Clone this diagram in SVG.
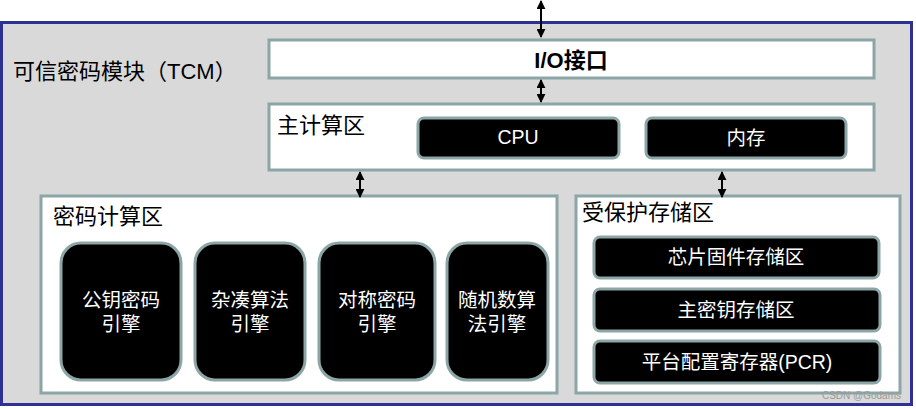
<svg xmlns="http://www.w3.org/2000/svg" width="916" height="409" viewBox="0 0 916 409">
<defs>
<style>
text{font-family:"Liberation Sans","Noto Sans CJK SC",sans-serif;}
.box{fill:#ffffff;stroke:#8CA5A6;stroke-width:3;}
.blk{fill:#000000;stroke:#8CA5A6;stroke-width:3;}
.wt{fill:#ffffff;font-size:19.5px;text-anchor:middle;}
.lbl{fill:#000000;font-size:22px;}
.conn{stroke:#000000;stroke-width:2;fill:none;marker-start:url(#ah);marker-end:url(#ah);}
</style>
<marker id="ah" viewBox="0 0 10 10" refX="9" refY="5" markerWidth="4.5" markerHeight="4.5" orient="auto-start-reverse" markerUnits="strokeWidth">
<path d="M0,0 L10,5 L0,10 z" fill="#000000"/>
</marker>
</defs>
<rect width="916" height="409" fill="#ffffff"/>
<g id="tcm">
<rect x="1.5" y="22.5" width="910" height="382" fill="#D9D9D9" stroke="#2E3192" stroke-width="3"/>
<text x="13" y="79" class="lbl">可信密码模块（TCM）</text>
</g>
<g id="io">
<rect x="269" y="40" width="605" height="38" class="box"/>
<text x="571" y="68" class="lbl" font-size="21" font-weight="bold" text-anchor="middle">I/O接口</text>
</g>
<g id="main">
<rect x="269" y="104" width="605" height="66" class="box"/>
<text x="277" y="133" class="lbl" font-size="22.5">主计算区</text>
</g>
<g id="cpu">
<rect x="418" y="118" width="201" height="40" rx="6" class="blk"/>
<text x="518" y="144" class="wt">CPU</text>
</g>
<g id="mem">
<rect x="646" y="118" width="200" height="40" rx="6" class="blk"/>
<text x="746" y="145" class="wt">内存</text>
</g>
<g id="crypto">
<rect x="41" y="196" width="516" height="197" class="box"/>
<text x="53" y="224" class="lbl" font-size="23">密码计算区</text>
</g>
<g id="pk">
<rect x="61" y="243" width="120" height="137" rx="20" class="blk"/>
<text x="121" y="307" class="wt">公钥密码</text>
<text x="121" y="331" class="wt">引擎</text>
</g>
<g id="hash">
<rect x="195" y="243" width="110" height="137" rx="20" class="blk"/>
<text x="250" y="307" class="wt">杂凑算法</text>
<text x="250" y="331" class="wt">引擎</text>
</g>
<g id="sym">
<rect x="319" y="243" width="116" height="137" rx="20" class="blk"/>
<text x="377" y="307" class="wt">对称密码</text>
<text x="377" y="331" class="wt">引擎</text>
</g>
<g id="rng">
<rect x="447" y="243" width="101" height="137" rx="20" class="blk"/>
<text x="497" y="307" class="wt">随机数算</text>
<text x="497" y="331" class="wt">法引擎</text>
</g>
<g id="prot">
<rect x="576" y="196" width="324" height="197" class="box"/>
<text x="582" y="220" class="lbl" font-size="20">受保护存储区</text>
</g>
<g id="fw">
<rect x="594" y="237" width="285" height="41" rx="6" class="blk"/>
<text x="736" y="264" class="wt">芯片固件存储区</text>
</g>
<g id="mk">
<rect x="594" y="289" width="286" height="42" rx="6" class="blk"/>
<text x="736" y="317" class="wt">主密钥存储区</text>
</g>
<g id="pcr">
<rect x="594" y="341" width="286" height="42" rx="6" class="blk"/>
<text x="737" y="369" class="wt">平台配置寄存器(PCR)</text>
</g>
<g id="connectors">
<line x1="541" y1="1" x2="541" y2="37" class="conn"/>
<line x1="541" y1="80" x2="541" y2="102" class="conn"/>
<line x1="360" y1="172" x2="360" y2="197" class="conn"/>
<line x1="722" y1="172" x2="722" y2="197" class="conn"/>
</g>
<text x="901" y="399" font-size="10" fill="#9a9a9a" text-anchor="end">CSDN @Godams</text>
</svg>
